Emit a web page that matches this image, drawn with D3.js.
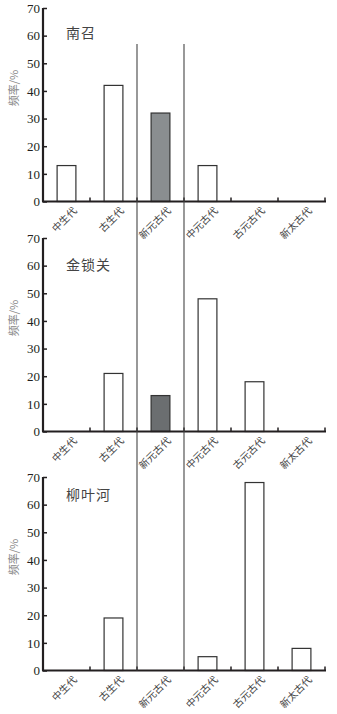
<!DOCTYPE html>
<html><head><meta charset="utf-8">
<script src="https://cdn.jsdelivr.net/npm/d3@7"></script>
<style>html,body{margin:0;padding:0;background:#fff;}svg{display:block;}</style>
</head><body>
<script>
const categories = ["中生代","古生代","新元古代","中元古代","古元古代","新太古代"];
const siteNames = ["南召","金锁关","柳叶河"];
const valuesNanzhao = [13, 42, 32, 13, 0, 0];
const valuesJinsuoguan = [0, 21, 13, 48, 18, 0];
const valuesLiuyehe = [0, 19, 0, 5, 68, 8];
const yTicks = [0,10,20,30,40,50,60,70];
const yLabel = "频率/%";
const highlightCategory = "新元古代";

const series = [valuesNanzhao, valuesJinsuoguan, valuesLiuyehe];
const highlightFills = ["#8a8e90", "#6b6e70"];

const W = 337, H = 714;
const svg = d3.select("body").append("svg").attr("width", W).attr("height", H);

const x = d3.scaleBand().domain(categories).range([43, 325]).paddingInner(0.6).paddingOuter(0.3);
const step = x.step();
const panelTops = [8, 238, 477];
const panelH = 193.5;
const ink = "#231f20";

series.forEach((vals, i) => {
  const top = panelTops[i];
  const y = d3.scaleLinear().domain([0, 70]).range([top + panelH, top]);
  const g = svg.append("g");
  const base = y(0);

  // bars
  g.selectAll("rect.bar").data(categories.map((c, k) => ({c, v: vals[k]})).filter(d => d.v > 0))
    .enter().append("rect")
    .attr("x", d => x(d.c)).attr("width", x.bandwidth())
    .attr("y", d => y(d.v)).attr("height", d => base - y(d.v))
    .attr("fill", d => d.c === highlightCategory ? (highlightFills[i] || "#777") : "#fff")
    .attr("stroke", "#333").attr("stroke-width", 1.2);

  // y axis
  const yAxis = d3.axisLeft(y).tickValues(yTicks).tickSize(-4).tickPadding(7).tickFormat(d3.format("d"));
  const ya = g.append("g").attr("transform", "translate(43,0)").call(yAxis);
  ya.select(".domain").attr("stroke", ink).attr("stroke-width", 2.2).attr("d", `M0,${top}V${base}`);
  ya.selectAll(".tick line").attr("stroke", ink).attr("stroke-width", 1.5);
  ya.selectAll(".tick text").attr("font-family", "'Liberation Serif', serif").attr("font-size", 13)
    .attr("fill", ink).attr("x", -3);

  // x axis
  const xAxis = d3.axisBottom(x).tickSize(0).tickFormat("");
  const xa = g.append("g").attr("transform", `translate(0,${base})`).call(xAxis);
  xa.select(".domain").attr("stroke", ink).attr("stroke-width", 2).attr("d", `M42,0H${x.range()[1] + 1}`);
  xa.selectAll(".tick").remove();
  // boundary ticks (upward)
  const bounds = categories.map(c => x(c) - x.bandwidth() * 0 - (step - x.bandwidth()) / 2 + step);
  g.selectAll("line.bt").data(bounds).enter().append("line")
    .attr("x1", d => d).attr("x2", d => d).attr("y1", base).attr("y2", base - 4)
    .attr("stroke", ink).attr("stroke-width", 1.5);

  // x labels
  g.selectAll("text.xl").data(categories).enter().append("text")
    .attr("transform", c => `translate(${x(c) + x.bandwidth() / 2 + 11},${base + 10}) rotate(-45)`)
    .attr("text-anchor", "end")
    .attr("font-family", "'Noto Sans CJK SC', sans-serif").attr("font-size", 10)
    .attr("fill", "#444").text(c => c);

  // y label
  g.append("text")
    .attr("transform", `translate(18,${top + 80}) rotate(-90)`)
    .attr("text-anchor", "middle")
    .attr("font-family", "'Noto Sans CJK SC', sans-serif").attr("font-size", 11)
    .attr("fill", "#888").text(yLabel);

  // title
  g.append("text")
    .attr("x", 66).attr("y", top + [30, 32, 23][i])
    .attr("font-family", "'Noto Sans CJK SC', sans-serif").attr("font-size", 14)
    .attr("letter-spacing", 1).attr("fill", "#444").text(siteNames[i]);
});

// vertical divider lines around the highlight category
const hx = x(highlightCategory);
const pad = (step - x.bandwidth()) / 2;
[hx - pad, hx + x.bandwidth() + pad].forEach(px => {
  svg.append("line").attr("x1", px).attr("x2", px).attr("y1", 44).attr("y2", panelTops[2] + panelH)
    .attr("stroke", "#444").attr("stroke-width", 1.1);
});
</script>
</body></html>
